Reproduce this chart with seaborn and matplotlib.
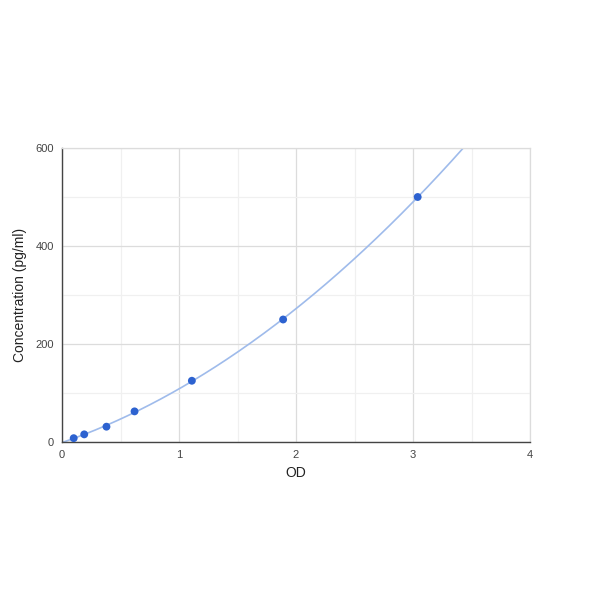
import matplotlib
matplotlib.use("Agg")
import matplotlib.pyplot as plt
import seaborn as sns
import numpy as np
import pandas as pd

od = [0.10, 0.19, 0.38, 0.62, 1.11, 1.89, 3.04]
conc = [7.8, 15.6, 31.25, 62.5, 125, 250, 500]

x_ticks = [0, 1, 2, 3, 4]
y_ticks = [0, 200, 400, 600]

sns.set_style("white")
plt.rcParams['font.family'] = ['Liberation Sans', 'DejaVu Sans']

fig = plt.figure(figsize=(5.9, 5.9), dpi=100)
ax = fig.add_axes([62 / 590, 1 - 442 / 590, 468 / 590, 294 / 590])

# trend line fitted to the standard points
coef = np.polyfit(od, conc, 2)
xs = np.linspace(0, 4, 300)
fit = pd.DataFrame({"od": xs, "conc": np.polyval(coef, xs)})
sns.lineplot(data=fit, x="od", y="conc", ax=ax, color="#9fbbeb", linewidth=1.2, zorder=2)

pts = pd.DataFrame({"od": od, "conc": conc})
sns.scatterplot(data=pts, x="od", y="conc", ax=ax, color="#2d62d0", s=32,
                edgecolor="none", zorder=3)

ax.set_xlim(0, 4)
ax.set_ylim(0, 600)
ax.set_xticks(x_ticks)
ax.set_yticks(y_ticks)
ax.set_xticks([0.5, 1.5, 2.5, 3.5], minor=True)
ax.set_yticks([100, 300, 500], minor=True)
ax.grid(True, which="major", color="#dcdcdc", linewidth=0.9)
ax.grid(True, which="minor", color="#f0f0f0", linewidth=0.9)
ax.set_axisbelow(True)

for side in ["top", "right"]:
    ax.spines[side].set_color("#dcdcdc")
    ax.spines[side].set_linewidth(0.9)
for side in ["left", "bottom"]:
    ax.spines[side].set_color("#444444")
    ax.spines[side].set_linewidth(1.0)

ax.tick_params(axis="both", which="both", length=0, labelsize=8, colors="#444444", pad=6)
ax.set_xlabel("OD", fontsize=10, color="#222222", labelpad=4)
ax.set_ylabel("Concentration (pg/ml)", fontsize=10, color="#222222", labelpad=6)

fig.savefig("out.png", dpi=100)
